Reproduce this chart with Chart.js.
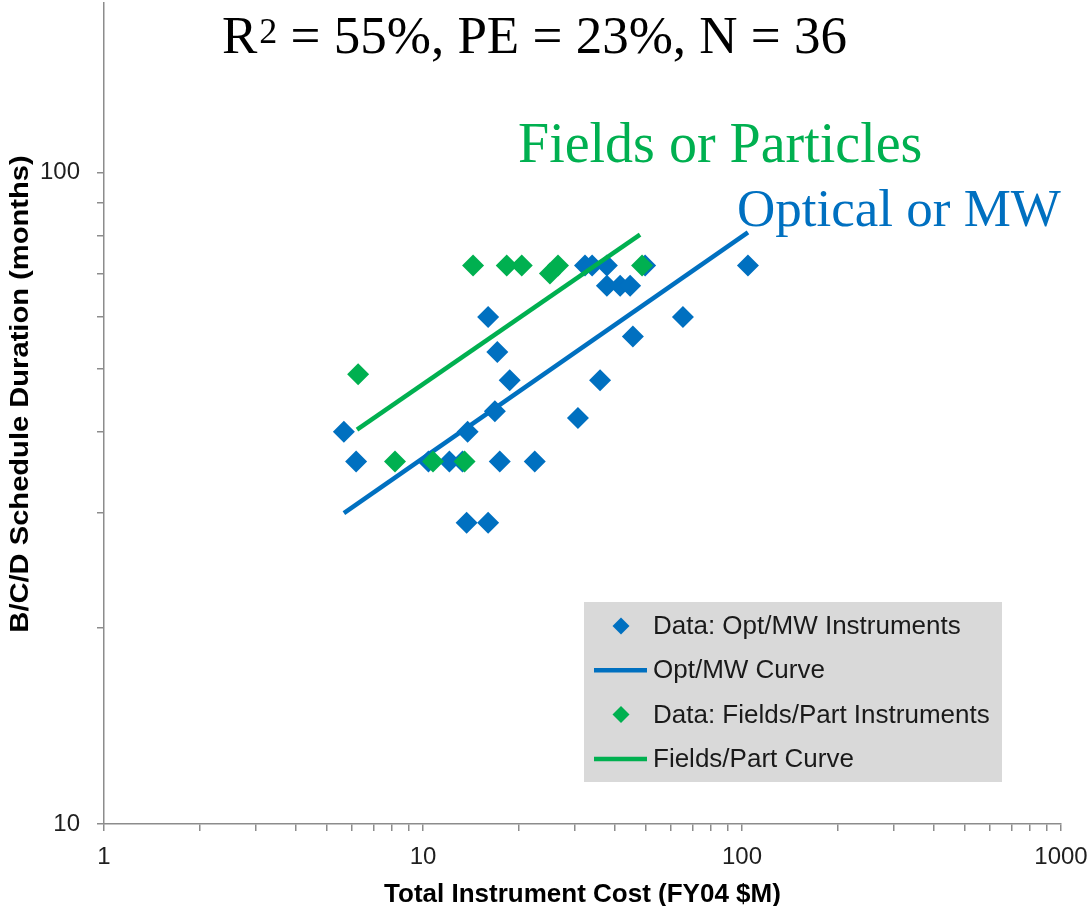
<!DOCTYPE html>
<html>
<head>
<meta charset="utf-8">
<script src="https://cdn.jsdelivr.net/npm/chart.js@4.4.1/dist/chart.umd.min.js"></script>
<style>
  html, body { margin: 0; padding: 0; background: #fff; overflow: hidden; }
  /* shifted up so the plot's top edge sits at the window's top, as in the source figure */
  #chart { display: block; margin-top: -8px; }
</style>
</head>
<body>
<canvas id="chart" width="1092" height="914"></canvas>
<script>
// Opt/MW instruments (cost $M, duration months)
const optCost   = [5.65, 6.17, 10.4, 12.1, 13.3, 17.4, 22.4, 13.8, 16.8, 13.7, 16.0, 16.0, 17.1, 18.7,
                   30.6, 35.9, 45.5, 65.3, 104.4, 32.2, 33.9, 37.7, 37.7, 41.5, 44.6, 49.7];
const optMonths = [40, 36, 36, 36, 36, 36, 36, 40, 43, 29, 29, 60, 53, 48,
                   42, 48, 56, 60, 72, 72, 72, 72, 67, 67, 67, 72];

// Fields/Particles instruments
const fpCost   = [6.26, 8.17, 10.75, 13.5, 14.35, 18.3, 20.4, 26.5, 25.0, 48.6];
const fpMonths = [49, 36, 36, 36, 72, 72, 72, 72, 70, 72];

// fitted curves (end points)
const optCurveCost   = [5.65, 104.4];
const optCurveMonths = [30.0, 80.9];
const fpCurveCost    = [6.21, 47.9];
const fpCurveMonths  = [40.3, 80.3];

const xTickLabels = [1, 10, 100, 1000];
const yTickLabels = [10, 100];

const BLUE = '#0070C0';
const GREEN = '#00B050';
const AXIS = '#8c8c8c';
const SHIFT = 8; // canvas margin-top offset

const toXY = (xs, ys) => xs.map((x, i) => ({x: x, y: ys[i]}));

// keep only 1..9 x 10^n ticks
const niceTicks = scale => {
  scale.ticks = scale.ticks.filter(t => {
    const m = t.value / Math.pow(10, Math.floor(Math.log10(t.value) + 1e-9));
    return Math.abs(m - Math.round(m)) < 1e-6;
  });
};

const overlay = {
  id: 'overlay',
  afterDraw(chart) {
    const ctx = chart.ctx;
    ctx.save();
    ctx.translate(0, SHIFT);
    ctx.textBaseline = 'alphabetic';
    ctx.textAlign = 'left';

    // headline
    ctx.fillStyle = '#000';
    ctx.font = '53px "Liberation Serif"';
    let x = 222;
    ctx.fillText('R', x, 53);
    x += ctx.measureText('R').width + 2;
    ctx.font = '36px "Liberation Serif"';
    ctx.fillText('2', x, 43);
    x += ctx.measureText('2').width;
    ctx.font = '53px "Liberation Serif"';
    ctx.fillText(' = 55%, PE = 23%, N = 36', x, 53);

    // group labels
    ctx.fillStyle = GREEN;
    ctx.font = '56px "Liberation Serif"';
    ctx.fillText('Fields or Particles', 518, 162);
    ctx.fillStyle = BLUE;
    ctx.font = '53px "Liberation Serif"';
    ctx.fillText('Optical or MW', 737, 226);

    // axis titles
    ctx.fillStyle = '#000';
    ctx.font = 'bold 26px "Liberation Sans"';
    ctx.textAlign = 'center';
    const area = chart.chartArea;
    ctx.fillText('Total Instrument Cost (FY04 $M)', (area.left + area.right) / 2, 902);
    ctx.save();
    ctx.translate(28, 394);
    ctx.rotate(-Math.PI / 2);
    ctx.scale(1.12, 1);
    ctx.fillText('B/C/D Schedule Duration (months)', 0, 0);
    ctx.restore();

    // legend box
    ctx.fillStyle = '#d9d9d9';
    ctx.fillRect(584, 602, 418, 180);
    ctx.font = '26px "Liberation Sans"';
    ctx.textAlign = 'left';
    ctx.textBaseline = 'middle';
    chart.data.datasets.forEach((ds, i) => {
      const y = 626 + i * 44.3;
      if (ds.showLine) {
        ctx.strokeStyle = ds.borderColor;
        ctx.lineWidth = 4.5;
        ctx.beginPath();
        ctx.moveTo(594, y);
        ctx.lineTo(647, y);
        ctx.stroke();
      } else {
        ctx.fillStyle = ds.backgroundColor;
        ctx.beginPath();
        ctx.moveTo(621, y - 8.5);
        ctx.lineTo(629.5, y);
        ctx.lineTo(621, y + 8.5);
        ctx.lineTo(612.5, y);
        ctx.closePath();
        ctx.fill();
      }
      ctx.fillStyle = '#1a1a1a';
      ctx.fillText(ds.label, 653, y + 1);
    });
    ctx.restore();
  }
};

const axisTicks = {
  color: '#1f1f1f',
  font: {family: '"Liberation Sans"', size: 24},
  autoSkip: false,
  maxRotation: 0
};

new Chart(document.getElementById('chart'), {
  type: 'scatter',
  data: {
    datasets: [
      {
        label: 'Data: Opt/MW Instruments',
        data: toXY(optCost, optMonths),
        backgroundColor: BLUE,
        borderColor: BLUE,
        pointStyle: 'rectRot',
        pointRadius: 11,
        pointBorderWidth: 0,
        order: 4
      },
      {
        label: 'Opt/MW Curve',
        data: toXY(optCurveCost, optCurveMonths),
        showLine: true,
        borderColor: BLUE,
        backgroundColor: BLUE,
        borderWidth: 4.5,
        pointRadius: 0,
        order: 3
      },
      {
        label: 'Data: Fields/Part Instruments',
        data: toXY(fpCost, fpMonths),
        backgroundColor: GREEN,
        borderColor: GREEN,
        pointStyle: 'rectRot',
        pointRadius: 11,
        pointBorderWidth: 0,
        order: 2
      },
      {
        label: 'Fields/Part Curve',
        data: toXY(fpCurveCost, fpCurveMonths),
        showLine: true,
        borderColor: GREEN,
        backgroundColor: GREEN,
        borderWidth: 4.5,
        pointRadius: 0,
        order: 1
      }
    ]
  },
  options: {
    responsive: false,
    animation: false,
    devicePixelRatio: 1,
    layout: {padding: {top: 0, right: 31, left: 0, bottom: 0}},
    plugins: {
      legend: {display: false},
      tooltip: {enabled: false}
    },
    scales: {
      x: {
        type: 'logarithmic',
        min: 1,
        max: 1000,
        afterBuildTicks: niceTicks,
        afterFit(scale) {
          scale.height = 82;
          scale.paddingLeft = 0;
          scale.paddingRight = 0;
        },
        border: {display: true, color: AXIS, width: 1.5},
        grid: {drawOnChartArea: false, drawTicks: true, tickLength: 7, color: AXIS, lineWidth: 1.5},
        ticks: Object.assign({}, axisTicks, {
          padding: 12,
          callback: v => xTickLabels.includes(v) ? String(v) : ''
        })
      },
      y: {
        type: 'logarithmic',
        min: 10,
        max: 182,
        afterBuildTicks: niceTicks,
        afterFit(scale) {
          scale.width = 104;
          scale.paddingTop = 0;
          scale.paddingBottom = 0;
        },
        border: {display: true, color: AXIS, width: 1.5},
        grid: {drawOnChartArea: false, drawTicks: true, tickLength: 7, color: AXIS, lineWidth: 1.5},
        ticks: Object.assign({}, axisTicks, {
          padding: 17,
          callback: v => yTickLabels.includes(v) ? String(v) : ''
        })
      }
    }
  },
  plugins: [overlay]
});
</script>
</body>
</html>
